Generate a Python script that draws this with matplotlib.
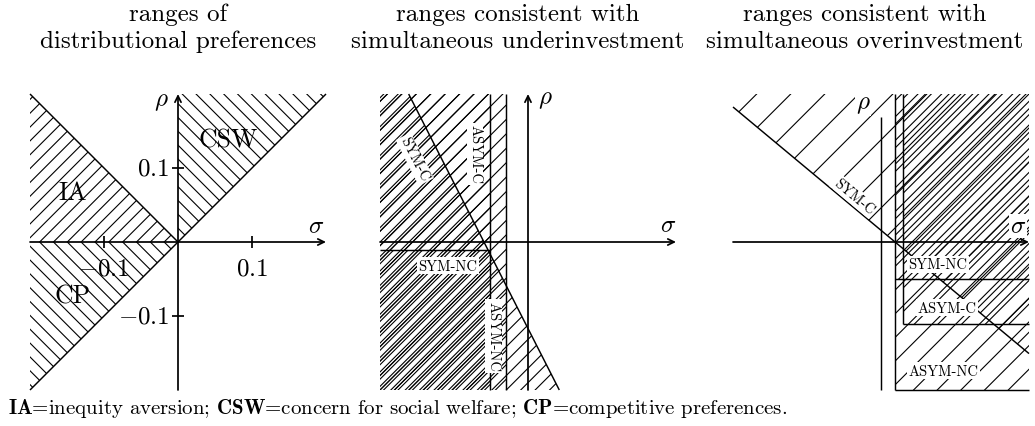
import numpy as np
import matplotlib
matplotlib.use("Agg")
import matplotlib.pyplot as plt
from matplotlib.patches import Polygon
from matplotlib.collections import LineCollection

plt.rcParams['font.family'] = 'serif'
plt.rcParams['font.serif'] = ['cmr10']
plt.rcParams['mathtext.fontset'] = 'cm'
plt.rcParams['axes.unicode_minus'] = False

# ---------------- data ----------------
LIM = 0.2
titles_top = ["ranges of", "ranges consistent with", "ranges consistent with"]
titles_bottom = ["distributional preferences", "simultaneous underinvestment",
                 "simultaneous overinvestment"]
caption = (r"$\mathbf{IA}$=inequity aversion; $\mathbf{CSW}$=concern for social welfare; "
           r"$\mathbf{CP}$=competitive preferences.")

# panel 1: distributional preferences
p1_ticks = [-0.1, 0.1]
p1_tick_labels = [r"$-0.1$", r"$0.1$"]
p1_labels = ["IA", "CSW", "CP"]
p1_label_pos = [(-0.143, 0.068), (0.068, 0.139), (-0.142, -0.072)]

# panel 2: underinvestment
p2_symc_root, p2_symc_slope = -0.0595, -1.965
p2_asymc = -0.0514
p2_asymnc = -0.0297
p2_symnc_rho = -0.0108
p2_labels = ["SYM-C", "ASYM-C", "SYM-NC", "ASYM-NC"]
p2_label_pos = [(-0.153, 0.112), (-0.0716, 0.119), (-0.108, -0.032), (-0.047, -0.127)]

# panel 3: overinvestment
p3_symc_root, p3_symc_slope = 0.019, -0.833
p3_asymnc = 0.019
p3_asymc = 0.030
p3_symnc_rho = -0.050
p3_asymc_rho = -0.111
p3_axis_top = 0.169
p3_labels = ["SYM-C", "SYM-NC", "ASYM-C", "ASYM-NC"]
p3_label_pos = [(-0.036, 0.062), (0.077, -0.030), (0.089, -0.089), (0.084, -0.174)]

# ---------------- helpers ----------------
W, H = 1035, 427
fig = plt.figure(figsize=(W / 100, H / 100), dpi=100)

def make_ax(left_px):
    ax = fig.add_axes([left_px / W, (H - 391) / H, 296 / W, 296 / H])
    ax.set_xlim(-LIM, LIM)
    ax.set_ylim(-LIM, LIM)
    ax.axis('off')
    return ax

HLW = 0.8
BLW = 1.05
ALW = 1.25

def hatch(ax, poly, spacing, offset=0.0, direction=1, lw=HLW):
    patch = Polygon(poly, closed=True, transform=ax.transData,
                    facecolor='none', edgecolor='none')
    ax.add_patch(patch)
    pts = np.array(poly)
    cs = pts[:, 1] - direction * pts[:, 0]
    n0 = int(np.floor((cs.min() - offset) / spacing)) - 1
    n1 = int(np.ceil((cs.max() - offset) / spacing)) + 1
    segs = []
    for n in range(n0, n1 + 1):
        c = offset + n * spacing
        x = np.array([-1.0, 1.0])
        segs.append(list(zip(x, direction * x + c)))
    lc = LineCollection(segs, colors='k', linewidths=lw)
    ax.add_collection(lc)
    lc.set_clip_path(patch)

def line(ax, xs, ys, lw=BLW):
    ax.plot(xs, ys, color='k', lw=lw, solid_capstyle='butt', clip_on=False)

def arrow(ax, start, end):
    ax.annotate('', xy=end, xytext=start,
                arrowprops=dict(arrowstyle='->,head_length=0.45,head_width=0.22',
                                lw=ALW, color='k', shrinkA=0, shrinkB=0))

def label(ax, txt, pos, rot=0, size=10.5, box=True):
    kw = dict(ha='center', va='center', rotation=rot, rotation_mode='anchor',
              fontsize=size, zorder=5)
    if box:
        kw['bbox'] = dict(facecolor='white', edgecolor='none', pad=1.2)
    ax.text(pos[0], pos[1], txt, **kw)

# ---------------- panel 1 ----------------
ax1 = make_ax(30)
sp1 = 0.0187
hatch(ax1, [(-LIM, 0), (-LIM, LIM), (0, 0)], sp1, 0.0, 1)
hatch(ax1, [(-LIM, 0), (0, 0), (-LIM, -LIM)], sp1, 0.0, -1)
hatch(ax1, [(0, 0), (0, LIM), (LIM, LIM)], sp1, 0.0, -1)
line(ax1, [-LIM, LIM], [-LIM, LIM])
line(ax1, [-LIM, 0], [LIM, 0])
arrow(ax1, (-LIM, 0), (LIM, 0))
arrow(ax1, (0, -LIM), (0, LIM))
for t, tl in zip(p1_ticks, p1_tick_labels):
    line(ax1, [t, t], [-0.008, 0.008], lw=ALW)
    line(ax1, [-0.008, 0.008], [t, t], lw=ALW)
    ax1.text(t, -0.036, tl, ha='center', va='center', fontsize=18)
    ax1.text(-0.012, t, tl, ha='right', va='center', fontsize=18)
ax1.text(0.186, 0.022, r"$\sigma$", ha='center', va='center', fontsize=18)
ax1.text(-0.022, 0.19, r"$\rho$", ha='center', va='center', fontsize=18)
for t, p in zip(p1_labels, p1_label_pos):
    ax1.text(p[0], p[1], t, ha='center', va='center', fontsize=18.5)

# ---------------- panel 2 ----------------
ax2 = make_ax(380)
def d2(r):
    return p2_symc_root + r / p2_symc_slope
sp2 = 0.0195
hatch(ax2, [(-LIM, LIM), (d2(LIM), LIM), (d2(-LIM), -LIM), (-LIM, -LIM)], sp2, 0.25 * sp2)
hatch(ax2, [(-LIM, LIM), (p2_asymc, LIM), (p2_asymc, -LIM), (-LIM, -LIM)], sp2, 0.0)
hatch(ax2, [(-LIM, LIM), (p2_asymnc, LIM), (p2_asymnc, -LIM), (-LIM, -LIM)], sp2, 0.0)
hatch(ax2, [(-LIM, p2_symnc_rho), (p2_asymc, p2_symnc_rho), (p2_asymc, -LIM), (-LIM, -LIM)],
      sp2, -0.25 * sp2)
line(ax2, [d2(LIM), d2(-LIM)], [LIM, -LIM])
line(ax2, [p2_asymc, p2_asymc], [-LIM, LIM])
line(ax2, [p2_asymnc, p2_asymnc], [-LIM, LIM])
line(ax2, [-LIM, p2_asymc], [p2_symnc_rho, p2_symnc_rho])
arrow(ax2, (-LIM, 0), (LIM, 0))
arrow(ax2, (0, -LIM), (0, LIM))
ax2.text(0.189, 0.023, r"$\sigma$", ha='center', va='center', fontsize=18)
ax2.text(0.023, 0.193, r"$\rho$", ha='center', va='center', fontsize=18)
rot2 = np.degrees(np.arctan(p2_symc_slope))
label(ax2, p2_labels[0], p2_label_pos[0], rot2)
label(ax2, p2_labels[1], p2_label_pos[1], -90)
label(ax2, p2_labels[2], p2_label_pos[2], 0)
label(ax2, p2_labels[3], p2_label_pos[3], -90)

# ---------------- panel 3 ----------------
ax3 = make_ax(733)
def l3(s):
    return p3_symc_slope * (s - p3_symc_root)
spA = 0.046
sp3 = 0.032
hatch(ax3, [(-LIM, l3(-LIM)), (-LIM, LIM), (LIM, LIM), (LIM, l3(LIM))], spA, 0.0)
hatch(ax3, [(p3_asymnc, LIM), (LIM, LIM), (LIM, -LIM), (p3_asymnc, -LIM)], sp3, 0.012)
hatch(ax3, [(p3_asymnc, LIM), (LIM, LIM), (LIM, p3_symnc_rho), (p3_asymnc, p3_symnc_rho)],
      sp3, 0.022)
hatch(ax3, [(p3_asymc, LIM), (LIM, LIM), (LIM, p3_asymc_rho), (p3_asymc, p3_asymc_rho)],
      sp3, 0.004)
line(ax3, [-LIM, LIM], [l3(-LIM), l3(LIM)])
line(ax3, [0, 0], [-LIM, p3_axis_top])
line(ax3, [p3_asymnc, p3_asymnc], [-LIM, LIM])
line(ax3, [p3_asymc, p3_asymc], [p3_asymc_rho, LIM])
line(ax3, [p3_asymnc, LIM], [p3_symnc_rho, p3_symnc_rho])
line(ax3, [p3_asymc, LIM], [p3_asymc_rho, p3_asymc_rho])
line(ax3, [p3_asymnc, LIM], [-LIM, -LIM])
arrow(ax3, (-LIM, 0), (LIM, 0))
ax3.text(0.185, 0.022, r"$\sigma$", ha='center', va='center', fontsize=18, zorder=6,
         bbox=dict(facecolor='white', edgecolor='none', pad=0.5))
ax3.text(-0.024, 0.186, r"$\rho$", ha='center', va='center', fontsize=18, zorder=6,
         bbox=dict(facecolor='white', edgecolor='none', pad=0.5))
rot3 = np.degrees(np.arctan(p3_symc_slope))
label(ax3, p3_labels[0], p3_label_pos[0], rot3)
for t, p in zip(p3_labels[1:], p3_label_pos[1:]):
    label(ax3, t, p, 0)

# ---------------- titles & caption ----------------
for cx, t1, t2 in zip([178, 518, 865], titles_top, titles_bottom):
    fig.text(cx / W, (H - 15) / H, t1, ha='center', va='center', fontsize=18)
    fig.text(cx / W, (H - 42) / H, t2, ha='center', va='center', fontsize=18)
fig.text(8 / W, (H - 409) / H, caption, ha='left', va='center', fontsize=15)

fig.savefig("out.png", dpi=100)
